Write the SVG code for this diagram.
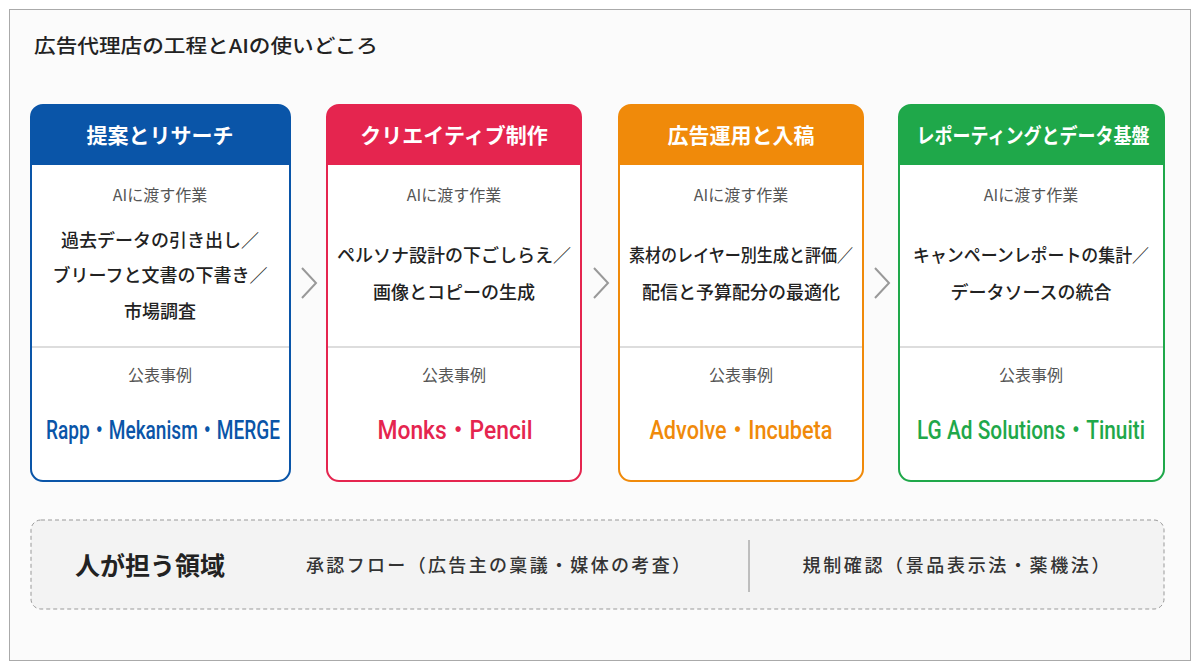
<svg xmlns="http://www.w3.org/2000/svg" width="1200" height="671" viewBox="0 0 1200 671">
<style>
text{font-family:"Noto Sans CJK JP","Noto Sans",sans-serif;text-anchor:middle}
.hd{font-size:21px;font-weight:700;fill:#fff}
.lb{font-size:16px;fill:#555}
.bd{font-size:18px;font-weight:500;fill:#222}
.ex{font-family:Roboto,"Noto Sans CJK JP",sans-serif;font-size:25px;font-weight:500}
.sep{stroke:#bbb;stroke-width:1}
.chev{fill:none;stroke:#999;stroke-width:2}
</style>
<rect x="9.5" y="9.5" width="1181" height="651" fill="#fbfbfb" stroke="#aaa"/>
<text x="34" y="53" textLength="344" lengthAdjust="spacingAndGlyphs" style="text-anchor:start;font-size:19px;font-weight:500;fill:#222">広告代理店の工程とAIの使いどころ</text>

<g id="card1">
<rect x="31" y="105" width="259" height="376" rx="12" fill="#fff" stroke="#0A55A8" stroke-width="2"/>
<path d="M31 165V117a12 12 0 0 1 12-12h235a12 12 0 0 1 12 12v48z" fill="#0A55A8"/>
<text class="hd" x="160" y="143">提案とリサーチ</text>
<text class="lb" x="160" y="201">AIに渡す作業</text>
<text class="bd" x="160" y="247">過去データの引き出し／</text>
<text class="bd" x="160" y="282">ブリーフと文書の下書き／</text>
<text class="bd" x="160" y="318">市場調査</text>
<line class="sep" x1="32" y1="347" x2="289" y2="347"/>
<text class="lb" x="160" y="381">公表事例</text>
<text class="ex" x="163" y="439" textLength="234" lengthAdjust="spacingAndGlyphs" fill="#0A55A8">Rapp・Mekanism・MERGE</text>
</g>
<g id="card2">
<rect x="327" y="105" width="254" height="376" rx="12" fill="#fff" stroke="#E5254F" stroke-width="2"/>
<path d="M327 165V117a12 12 0 0 1 12-12h230a12 12 0 0 1 12 12v48z" fill="#E5254F"/>
<text class="hd" x="454" y="143">クリエイティブ制作</text>
<text class="lb" x="454" y="201">AIに渡す作業</text>
<text class="bd" x="454" y="262">ペルソナ設計の下ごしらえ／</text>
<text class="bd" x="454" y="299">画像とコピーの生成</text>
<line class="sep" x1="328" y1="347" x2="580" y2="347"/>
<text class="lb" x="454" y="381">公表事例</text>
<text class="ex" x="455" y="439" textLength="155" lengthAdjust="spacingAndGlyphs" fill="#E5254F">Monks・Pencil</text>
</g>
<g id="card3">
<rect x="619" y="105" width="244" height="376" rx="12" fill="#fff" stroke="#F08A0A" stroke-width="2"/>
<path d="M619 165V117a12 12 0 0 1 12-12h220a12 12 0 0 1 12 12v48z" fill="#F08A0A"/>
<text class="hd" x="741" y="143">広告運用と入稿</text>
<text class="lb" x="741" y="201">AIに渡す作業</text>
<text class="bd" x="741" y="262" textLength="224" lengthAdjust="spacingAndGlyphs">素材のレイヤー別生成と評価／</text>
<text class="bd" x="741" y="299">配信と予算配分の最適化</text>
<line class="sep" x1="620" y1="347" x2="862" y2="347"/>
<text class="lb" x="741" y="381">公表事例</text>
<text class="ex" x="741" y="439" textLength="183" lengthAdjust="spacingAndGlyphs" fill="#F08A0A">Advolve・Incubeta</text>
</g>
<g id="card4">
<rect x="899" y="105" width="265" height="376" rx="12" fill="#fff" stroke="#1FA84A" stroke-width="2"/>
<path d="M899 165V117a12 12 0 0 1 12-12h241a12 12 0 0 1 12 12v48z" fill="#1FA84A"/>
<text class="hd" x="1033" y="143" textLength="233" lengthAdjust="spacingAndGlyphs">レポーティングとデータ基盤</text>
<text class="lb" x="1031" y="201">AIに渡す作業</text>
<text class="bd" x="1031" y="262" textLength="236" lengthAdjust="spacingAndGlyphs">キャンペーンレポートの集計／</text>
<text class="bd" x="1031" y="299">データソースの統合</text>
<line class="sep" x1="900" y1="347" x2="1163" y2="347"/>
<text class="lb" x="1031" y="381">公表事例</text>
<text class="ex" x="1031" y="439" textLength="228" lengthAdjust="spacingAndGlyphs" fill="#1FA84A">LG Ad Solutions・Tinuiti</text>
</g>
<g id="connectors">
<path class="chev" d="M302 268l14 15-14 15"/>
<path class="chev" d="M594 268l14 15-14 15"/>
<path class="chev" d="M875 268l14 15-14 15"/>
</g>
<g id="human">
<rect x="31" y="520" width="1133" height="89" rx="10" fill="#f3f3f3" stroke="#999" stroke-dasharray="4 3"/>
<text x="150" y="575" style="font-size:25px;font-weight:700;fill:#222">人が担う領域</text>
<text x="498" y="572" textLength="384" lengthAdjust="spacing" style="font-size:18px;font-weight:500;fill:#333">承認フロー（広告主の稟議・媒体の考査）</text>
<line x1="749" y1="540" x2="749" y2="592" stroke="#888"/>
<text x="956" y="572" textLength="307" lengthAdjust="spacing" style="font-size:18px;font-weight:500;fill:#333">規制確認（景品表示法・薬機法）</text>
</g>
</svg>
